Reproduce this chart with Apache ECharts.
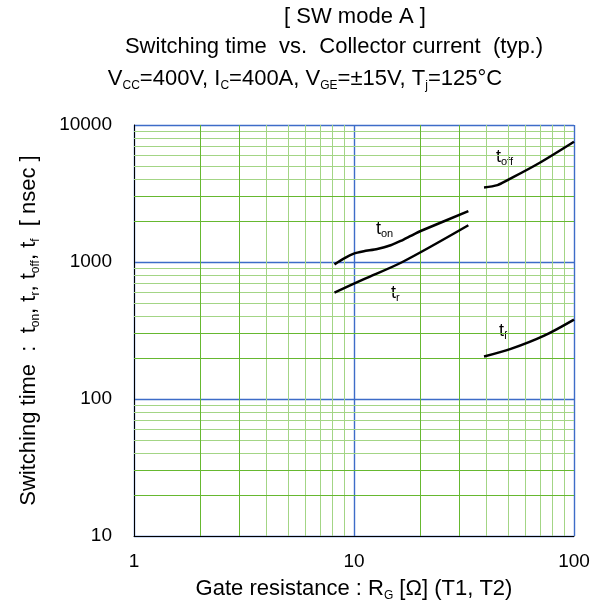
<!DOCTYPE html>
<html>
<head>
<meta charset="utf-8">
<script src="https://cdn.jsdelivr.net/npm/echarts@6/dist/echarts.min.js"></script>
<style>
  html, body { margin: 0; padding: 0; background: #fff; }
  #main { width: 600px; height: 603px; }
</style>
</head>
<body>
<div id="main"></div>
<script>
// gate resistance [ohm] / switching time [ns]
var tonR = [8.15, 8.98, 9.98, 11.08, 12.76, 14.67, 16.29, 18.09, 20.09, 33.1];
var tonT = [961, 1058, 1151, 1197, 1244, 1324, 1424, 1549, 1684, 2349];
var trR = [8.15, 11.1, 16.6, 33.1];
var trT = [597, 750, 1000, 1854];
var toffR = [39.0, 44.9, 49.9, 68.3, 100];
var toffT = [3500, 3640, 3960, 5190, 7550];
var tfR = [39.0, 51.6, 73.2, 100];
var tfT = [204, 232, 290, 380];

var xMinorDark = [2, 3, 20, 30];
var xMinorLight = [4, 5, 6, 7, 8, 9, 40, 50, 60, 70, 80, 90];
var yMinorDark = [20, 30, 200, 300, 2000, 3000];
var yMinorLight = [40, 50, 60, 70, 80, 90, 400, 500, 600, 700, 800, 900, 4000, 5000, 6000, 7000, 8000, 9000];

var FONT = 'Liberation Sans, Arial, sans-serif';
var BLUE = '#3d6cc8';
var GREEN = '#66b830';
var LGREEN = '#a3d585';

function pairs(xs, ys) {
  return xs.map(function (x, i) { return [x, ys[i]]; });
}

function gridLines(vals, axis, color) {
  return vals.map(function (v) {
    var d = {}; d[axis] = v;
    d.lineStyle = { color: color, width: 1, type: 'solid' };
    return d;
  });
}

var big = { fontSize: 22, lineHeight: 26, fontFamily: FONT, fill: '#000' };
var bigSub = { fontSize: 12, lineHeight: 14, verticalAlign: 'bottom', fontFamily: FONT, fill: '#000' };
var nrm = { fontSize: 18, lineHeight: 20, fontFamily: FONT, fill: '#000' };
var sub = { fontSize: 11, lineHeight: 13, verticalAlign: 'bottom', fontFamily: FONT, fill: '#000' };
var nameSub = { fontSize: 12, lineHeight: 16, verticalAlign: 'bottom', fontFamily: FONT, color: '#000' };

var myChart = echarts.init(document.getElementById('main'));

var option = {
  animation: false,
  backgroundColor: '#fff',
  grid: { left: 134, right: 26, top: 125, bottom: 67, containLabel: false, outerBoundsMode: 'none' },
  xAxis: {
    type: 'log',
    logBase: 10,
    min: 1,
    max: 100,
    name: 'Gate resistance : R{s|G} [Ω] (T1, T2)',
    nameLocation: 'middle',
    nameGap: 36,
    nameTextStyle: { fontSize: 22, lineHeight: 26, fontFamily: FONT, color: '#000', rich: { s: nameSub } },
    axisLine: { lineStyle: { color: '#000', width: 1 } },
    axisTick: { show: false },
    axisLabel: { fontSize: 19, fontFamily: FONT, color: '#000', margin: 16,
      formatter: function (v) { return String(v); } },
    splitLine: { show: true, lineStyle: { color: BLUE, width: 1.4 } }
  },
  yAxis: {
    type: 'log',
    logBase: 10,
    min: 10,
    max: 10000,
    name: 'Switching time  :  t{s|on}, t{s|r}, t{s|off}, t{s|f}  [ nsec ]',
    nameLocation: 'middle',
    nameGap: 92,
    nameTextStyle: { fontSize: 22, lineHeight: 26, fontFamily: FONT, color: '#000', rich: { s: nameSub } },
    axisLine: { lineStyle: { color: '#000', width: 1 } },
    axisTick: { show: false },
    axisLabel: { fontSize: 19, fontFamily: FONT, color: '#000', margin: 22,
      formatter: function (v) { return String(v); } },
    splitLine: { show: true, lineStyle: { color: BLUE, width: 1.4 } }
  },
  graphic: [
    { type: 'text', x: 355, y: 17, style: { text: '[ SW mode A ]', font: '22px ' + FONT, fill: '#000', textAlign: 'center', textVerticalAlign: 'middle' } },
    { type: 'text', x: 334, y: 47, style: { text: 'Switching time  vs.  Collector current  (typ.)', font: '22px ' + FONT, fill: '#000', textAlign: 'center', textVerticalAlign: 'middle' } },
    {
      type: 'text', x: 305, y: 79,
      style: {
        text: '{n|V}{s|CC}{n|=400V, I}{s|C}{n|=400A, V}{s|GE}{n|=±15V, T}{s|j}{n|=125°C}',
        textAlign: 'center', textVerticalAlign: 'middle',
        rich: { n: big, s: bigSub }
      }
    },
    { type: 'text', x: 376, y: 219, style: { text: '{n|t}{s|on}', rich: { n: nrm, s: sub } } },
    { type: 'text', x: 391, y: 283, style: { text: '{n|t}{s|r}', rich: { n: nrm, s: sub } } },
    { type: 'text', x: 496, y: 147, style: { text: '{n|t}{s|off}', rich: { n: nrm, s: sub } } },
    { type: 'text', x: 499, y: 321, style: { text: '{n|t}{s|f}', rich: { n: nrm, s: sub } } }
  ],
  series: [
    {
      type: 'line',
      data: [],
      silent: true,
      z: 1,
      markLine: {
        silent: true,
        symbol: ['none', 'none'],
        label: { show: false },
        animation: false,
        data: gridLines(xMinorLight, 'xAxis', LGREEN)
          .concat(gridLines(yMinorLight, 'yAxis', LGREEN))
          .concat(gridLines(xMinorDark, 'xAxis', GREEN))
          .concat(gridLines(yMinorDark, 'yAxis', GREEN))
      }
    },
    { name: 'ton', type: 'line', data: pairs(tonR, tonT), smooth: 0.2, showSymbol: false, z: 5, lineStyle: { color: '#000', width: 2.5 } },
    { name: 'tr', type: 'line', data: pairs(trR, trT), smooth: 0.3, showSymbol: false, z: 5, lineStyle: { color: '#000', width: 2.5 } },
    { name: 'toff', type: 'line', data: pairs(toffR, toffT), smooth: 0.3, showSymbol: false, z: 5, lineStyle: { color: '#000', width: 2.5 } },
    { name: 'tf', type: 'line', data: pairs(tfR, tfT), smooth: 0.3, showSymbol: false, z: 5, lineStyle: { color: '#000', width: 2.5 } }
  ]
};

myChart.setOption(option);
</script>
</body>
</html>
